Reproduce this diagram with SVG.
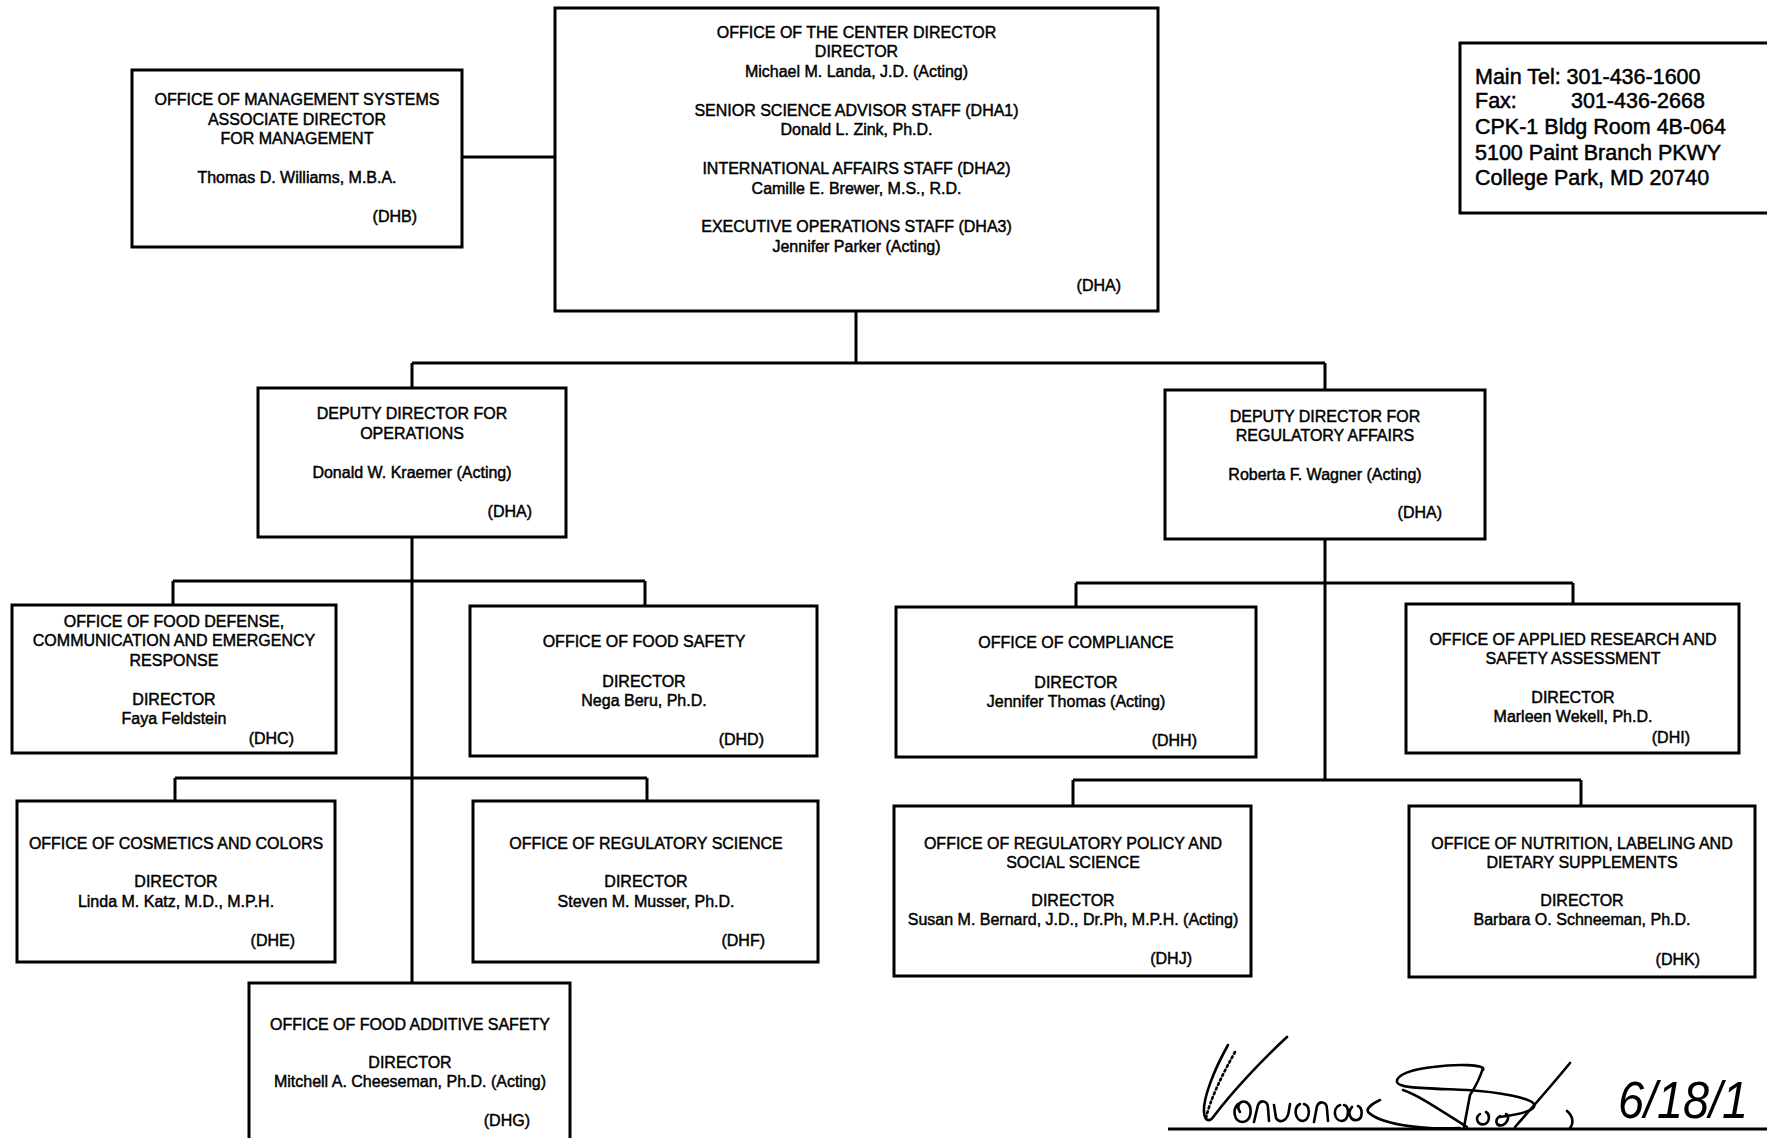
<svg xmlns="http://www.w3.org/2000/svg" width="1767" height="1138" viewBox="0 0 1767 1138">
<style>
.box{fill:#fff;stroke:#000;stroke-width:3}
.t{font-family:"Liberation Sans",Arial,sans-serif;font-size:16px;fill:#000;stroke:#000;stroke-width:0.45;text-anchor:middle}
.r{text-anchor:end}
.big{font-family:"Liberation Sans",Arial,sans-serif;font-size:21.5px;fill:#000;stroke:#000;stroke-width:0.5}
.conn{stroke:#000;stroke-width:3;fill:none}
.sig{stroke:#000;stroke-width:2.6;fill:none;stroke-linecap:round;stroke-linejoin:round}
</style>
<rect x="0" y="0" width="1767" height="1138" fill="#fff"/>

<g id="connectors" class="conn">
  <path d="M462,157 H555"/>
  <path d="M856,311 V363 M412,363 H1325 M412,363 V388 M1325,363 V390"/>
  <path d="M412,537 V983 M173,581 H645 M173,581 V605 M645,581 V606 M175,778 H647 M175,778 V801 M647,778 V801"/>
  <path d="M1325,539 V780 M1076,583 H1573 M1076,583 V607 M1573,583 V604 M1073,780 H1581 M1073,780 V806 M1581,780 V806"/>
</g>

<g id="dha-center">
  <rect class="box" x="555" y="8" width="603" height="303"/>
  <text class="t" x="856.5" y="38">OFFICE OF THE CENTER DIRECTOR</text>
  <text class="t" x="856.5" y="57">DIRECTOR</text>
  <text class="t" x="856.5" y="76.5">Michael M. Landa, J.D. (Acting)</text>
  <text class="t" x="856.5" y="115.5">SENIOR SCIENCE ADVISOR STAFF (DHA1)</text>
  <text class="t" x="856.5" y="135">Donald L. Zink, Ph.D.</text>
  <text class="t" x="856.5" y="174">INTERNATIONAL AFFAIRS STAFF (DHA2)</text>
  <text class="t" x="856.5" y="193.5">Camille E. Brewer, M.S., R.D.</text>
  <text class="t" x="856.5" y="232">EXECUTIVE OPERATIONS STAFF (DHA3)</text>
  <text class="t" x="856.5" y="251.5">Jennifer Parker (Acting)</text>
  <text class="t r" x="1121" y="291">(DHA)</text>
</g>

<g id="dhb">
  <rect class="box" x="132" y="70" width="330" height="177"/>
  <text class="t" x="297" y="105">OFFICE OF MANAGEMENT SYSTEMS</text>
  <text class="t" x="297" y="124.5">ASSOCIATE DIRECTOR</text>
  <text class="t" x="297" y="144">FOR MANAGEMENT</text>
  <text class="t" x="297" y="182.5">Thomas D. Williams, M.B.A.</text>
  <text class="t r" x="417" y="222">(DHB)</text>
</g>

<g id="contact">
  <rect class="box" x="1460" y="43" width="340" height="170"/>
  <text class="big" x="1475" y="83.5">Main Tel: 301-436-1600</text>
  <text class="big" x="1475" y="108">Fax:</text>
  <text class="big" x="1571" y="108">301-436-2668</text>
  <text class="big" x="1475" y="133.5">CPK-1 Bldg Room 4B-064</text>
  <text class="big" x="1475" y="159.5">5100 Paint Branch PKWY</text>
  <text class="big" x="1475" y="185">College Park, MD 20740</text>
</g>

<g id="deputy-operations">
  <rect class="box" x="258" y="388" width="308" height="149"/>
  <text class="t" x="412" y="419">DEPUTY DIRECTOR FOR</text>
  <text class="t" x="412" y="439">OPERATIONS</text>
  <text class="t" x="412" y="478">Donald W. Kraemer (Acting)</text>
  <text class="t r" x="532" y="516.5">(DHA)</text>
</g>

<g id="deputy-regulatory">
  <rect class="box" x="1165" y="390" width="320" height="149"/>
  <text class="t" x="1325" y="421.5">DEPUTY DIRECTOR FOR</text>
  <text class="t" x="1325" y="441">REGULATORY AFFAIRS</text>
  <text class="t" x="1325" y="480">Roberta F. Wagner (Acting)</text>
  <text class="t r" x="1442" y="518.3">(DHA)</text>
</g>

<g id="dhc">
  <rect class="box" x="12" y="605" width="324" height="148"/>
  <text class="t" x="174" y="627">OFFICE OF FOOD DEFENSE,</text>
  <text class="t" x="174" y="646">COMMUNICATION AND EMERGENCY</text>
  <text class="t" x="174" y="665.5">RESPONSE</text>
  <text class="t" x="174" y="704.5">DIRECTOR</text>
  <text class="t" x="174" y="723.5">Faya Feldstein</text>
  <text class="t r" x="294" y="743.5">(DHC)</text>
</g>

<g id="dhd">
  <rect class="box" x="470" y="606" width="347" height="150"/>
  <text class="t" x="644" y="647">OFFICE OF FOOD SAFETY</text>
  <text class="t" x="644" y="686.5">DIRECTOR</text>
  <text class="t" x="644" y="705.5">Nega Beru, Ph.D.</text>
  <text class="t r" x="764" y="745">(DHD)</text>
</g>

<g id="dhe">
  <rect class="box" x="17" y="801" width="318" height="161"/>
  <text class="t" x="176" y="849">OFFICE OF COSMETICS AND COLORS</text>
  <text class="t" x="176" y="887">DIRECTOR</text>
  <text class="t" x="176" y="906.5">Linda M. Katz, M.D., M.P.H.</text>
  <text class="t r" x="295" y="945.5">(DHE)</text>
</g>

<g id="dhf">
  <rect class="box" x="473" y="801" width="345" height="161"/>
  <text class="t" x="646" y="849">OFFICE OF REGULATORY SCIENCE</text>
  <text class="t" x="646" y="887">DIRECTOR</text>
  <text class="t" x="646" y="906.5">Steven M. Musser, Ph.D.</text>
  <text class="t r" x="765" y="945.5">(DHF)</text>
</g>

<g id="dhg">
  <rect class="box" x="249" y="983" width="321" height="170"/>
  <text class="t" x="410" y="1029.5">OFFICE OF FOOD ADDITIVE SAFETY</text>
  <text class="t" x="410" y="1067.5">DIRECTOR</text>
  <text class="t" x="410" y="1086.5">Mitchell A. Cheeseman, Ph.D. (Acting)</text>
  <text class="t r" x="530" y="1125.5">(DHG)</text>
</g>

<g id="dhh">
  <rect class="box" x="896" y="607" width="360" height="150"/>
  <text class="t" x="1076" y="648">OFFICE OF COMPLIANCE</text>
  <text class="t" x="1076" y="687.5">DIRECTOR</text>
  <text class="t" x="1076" y="706.5">Jennifer Thomas (Acting)</text>
  <text class="t r" x="1197" y="746">(DHH)</text>
</g>

<g id="dhi">
  <rect class="box" x="1406" y="604" width="333" height="149"/>
  <text class="t" x="1573" y="644.7">OFFICE OF APPLIED RESEARCH AND</text>
  <text class="t" x="1573" y="663.8">SAFETY ASSESSMENT</text>
  <text class="t" x="1573" y="703.2">DIRECTOR</text>
  <text class="t" x="1573" y="722.4">Marleen Wekell, Ph.D.</text>
  <text class="t r" x="1690" y="742.7">(DHI)</text>
</g>

<g id="dhj">
  <rect class="box" x="894" y="806" width="357" height="170"/>
  <text class="t" x="1073" y="848.6">OFFICE OF REGULATORY POLICY AND</text>
  <text class="t" x="1073" y="867.8">SOCIAL SCIENCE</text>
  <text class="t" x="1073" y="906">DIRECTOR</text>
  <text class="t" x="1073" y="925.2">Susan M. Bernard, J.D., Dr.Ph, M.P.H. (Acting)</text>
  <text class="t r" x="1192" y="963.5">(DHJ)</text>
</g>

<g id="dhk">
  <rect class="box" x="1409" y="806" width="346" height="171"/>
  <text class="t" x="1582" y="848.6">OFFICE OF NUTRITION, LABELING AND</text>
  <text class="t" x="1582" y="867.8">DIETARY SUPPLEMENTS</text>
  <text class="t" x="1582" y="906">DIRECTOR</text>
  <text class="t" x="1582" y="925.2">Barbara O. Schneeman, Ph.D.</text>
  <text class="t r" x="1700" y="964.6">(DHK)</text>
</g>

<g id="signature">
  <line x1="1168" y1="1129" x2="1767" y2="1129" stroke="#000" stroke-width="3"/>
  <path class="sig" d="M1228,1045 C1214,1070 1203,1098 1204,1112 C1205,1122 1210,1122 1214,1116 C1232,1092 1262,1060 1287,1037"/>
  <path class="sig" stroke-width="1.2" stroke-dasharray="2,3" d="M1235,1052 C1222,1075 1210,1100 1206,1118"/>
  <path class="sig" d="M1238,1104 C1232,1110 1234,1122 1243,1122 C1252,1121 1253,1106 1246,1102 C1240,1100 1236,1106 1240,1112"/>
  <path class="sig" d="M1254,1122 L1258,1105 C1261,1099 1268,1101 1268,1108 L1269,1121 M1274,1105 L1276,1118 C1280,1124 1288,1121 1289,1110 L1290,1104 M1300,1104 C1293,1108 1295,1121 1303,1121 C1310,1120 1311,1106 1304,1104 M1314,1122 L1317,1106 C1320,1100 1327,1102 1327,1109 L1328,1121 M1340,1105 C1332,1108 1334,1121 1342,1121 C1349,1120 1350,1107 1344,1105 M1352,1107 C1347,1112 1350,1121 1357,1120 C1363,1119 1363,1108 1358,1106"/>
  <path class="sig" d="M1380,1100 C1372,1104 1366,1108 1368,1112 C1380,1124 1420,1130 1460,1128"/>
  <path class="sig" d="M1483,1070 C1486,1064 1455,1064 1433,1067 C1412,1069 1396,1075 1397,1082 C1398,1088 1420,1088 1467,1090 C1500,1092 1530,1098 1534,1104 C1537,1110 1522,1114 1500,1117"/>
  <path class="sig" d="M1403,1090 C1420,1096 1440,1110 1467,1127"/>
  <path class="sig" d="M1483,1068 C1480,1078 1476,1086 1470,1095 L1464,1127"/>
  <path class="sig" d="M1480,1114 C1474,1118 1478,1126 1485,1124 C1490,1122 1490,1114 1486,1112 M1500,1116 C1494,1120 1496,1127 1503,1125 C1508,1122 1510,1116 1506,1114"/>
  <path class="sig" d="M1515,1127 C1530,1110 1552,1085 1570,1063"/>
  <path class="sig" d="M1567,1111 C1573,1116 1574,1123 1570,1128"/>
  <text x="1618" y="1118" font-family="'Liberation Sans',Arial,sans-serif" font-style="italic" font-size="52" textLength="130" lengthAdjust="spacingAndGlyphs" fill="#000">6/18/1</text>
</g>
</svg>
